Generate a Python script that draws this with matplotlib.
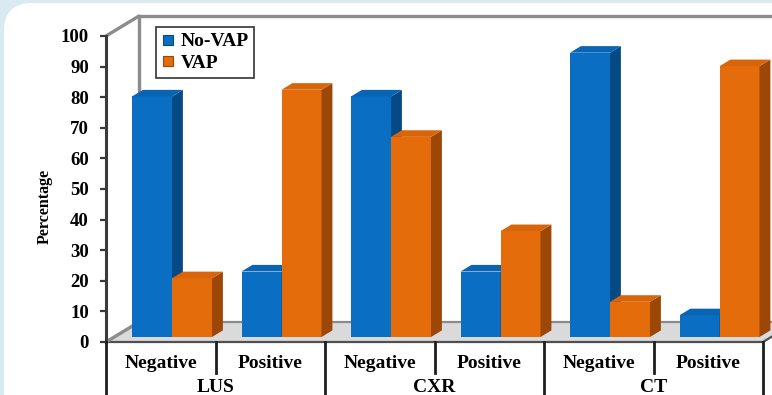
import matplotlib
matplotlib.use("Agg")
import matplotlib.pyplot as plt
from matplotlib.patches import Polygon, FancyBboxPatch
from matplotlib.lines import Line2D

# ---- data -------------------------------------------------------------
methods = ["LUS", "CXR", "CT"]
results = ["Negative", "Positive"]
series_names = ["No-VAP", "VAP"]
no_vap = [78.6, 21.4, 78.6, 21.4, 92.9, 7.1]
vap = [19.2, 80.8, 65.4, 34.6, 11.5, 88.5]
y_ticks = list(range(0, 101, 10))

# ---- styling ----------------------------------------------------------
W, H = 772, 395
SERIF = "Liberation Serif"
face = {"No-VAP": "#0a6fc2", "VAP": "#e46c0a"}
side = {"No-VAP": "#054a85", "VAP": "#9c4706"}
top = {"No-VAP": "#0965b4", "VAP": "#d8650a"}

fig = plt.figure(figsize=(W / 100, H / 100), dpi=100, facecolor="#d9eaf2")

# rounded white card behind the chart
bg = fig.add_axes([0, 0, 1, 1])
bg.set_xlim(0, W)
bg.set_ylim(H, 0)
bg.axis("off")
bg.add_patch(FancyBboxPatch((4, 3), 900, 500,
                            boxstyle="round,pad=0,rounding_size=28",
                            fc="white", ec="none"))

# plot area (front plane of the 3-D box)
L, R, T, B = 106, 763, 36, 342
ax = fig.add_axes([L / W, 1 - B / H, (R - L) / W, (B - T) / H])
ax.set_facecolor("none")
ncat = len(no_vap)
ax.set_xlim(0, ncat)
ax.set_ylim(0, 100)
for s in ax.spines.values():
    s.set_visible(False)

SX = ncat / (R - L)      # data units per pixel, x
SY = 100 / (B - T)       # data units per pixel, y
DX, DY = 33 * SX, 20 * SY  # full depth of the box

# floor
ax.add_patch(Polygon([(0, 0), (ncat, 0), (ncat + DX, DY), (DX, DY)],
                     closed=True, fc="#dadada", ec="none", zorder=1,
                     clip_on=False))
ax.plot([DX, ncat + DX], [DY, DY], color="#8a8a8a", lw=1.6, zorder=1.2,
        clip_on=False)
ax.plot([0, ncat, ncat + DX], [0, 0, DY], color="#505050", lw=1.6,
        zorder=1.2, clip_on=False)

# back and side wall edges
wall = dict(color="#8c8c8c", lw=2.4, zorder=1.3, clip_on=False,
            solid_capstyle="round")
ax.plot([DX, ncat + DX], [100 + DY, 100 + DY], **wall)
ax.plot([DX, DX], [DY, 100 + DY], **wall)
ax.plot([0, DX], [100, 100 + DY], **wall)
ax.plot([0, DX], [0, DY], **wall)

# 3-D bars
bw = 40 * SX
fx, fy = 0.25 * DX + 3 * SX, 0.25 * DY
ddx, ddy = 0.33 * DX, 0.33 * DY
z = 3.0
for i in range(ncat):
    c = i + 0.5 + fx
    for k, (name, vals) in enumerate(zip(series_names, [no_vap, vap])):
        v = vals[i]
        x0 = c - bw + k * bw
        x1 = x0 + bw
        ax.bar(x0, v, width=bw, bottom=fy, align="edge", color=face[name],
               lw=0, zorder=z, clip_on=False)
        ax.add_patch(Polygon([(x1, fy), (x1 + ddx, fy + ddy),
                              (x1 + ddx, fy + v + ddy), (x1, fy + v)],
                             closed=True, fc=side[name], ec="none",
                             zorder=z, clip_on=False))
        ax.add_patch(Polygon([(x0, fy + v), (x0 + ddx, fy + v + ddy),
                              (x1 + ddx, fy + v + ddy), (x1, fy + v)],
                             closed=True, fc=top[name], ec="none",
                             zorder=z, clip_on=False))
        z += 0.01

# y axis
ax.plot([0, 0], [0, 100], color="#3a3a3a", lw=2.2, zorder=5, clip_on=False)
ax.set_yticks(y_ticks)
ax.set_xticks([])
ax.tick_params(axis="y", length=4.3, width=1.6, pad=8.0, color="#3a3a3a")
for lab in ax.get_yticklabels():
    lab.set_fontfamily(SERIF)
    lab.set_fontweight("bold")
    lab.set_fontsize(13.5)

fig.text(45 / W, 1 - 206 / H, "Percentage", rotation=90, ha="center",
         va="center", fontfamily=SERIF, fontweight="bold", fontsize=11.5)

# category table below the floor
sep = dict(color="#1e1e1e", lw=2.0, zorder=5, clip_on=False)
for k in range(ncat + 1):
    bottom_px = 400 if k % 2 == 0 else 373
    ax.plot([k, k], [0, -(bottom_px - B) * SY], **sep)
for i in range(ncat):
    ax.text(i + 0.5, -(368 - B) * SY, results[i % 2], ha="center",
            va="baseline", fontfamily=SERIF, fontweight="bold",
            fontsize=14, clip_on=False)
for g, m in enumerate(methods):
    ax.text(2 * g + 1, -(392 - B) * SY, m, ha="center", va="baseline",
            fontfamily=SERIF, fontweight="bold", fontsize=14,
            clip_on=False)

# legend
handles = [Line2D([], [], ls="none", marker="s", markersize=6.5,
                  markerfacecolor=face[n], markeredgecolor=side[n],
                  markeredgewidth=0.8) for n in series_names]
leg = ax.legend(handles, series_names, loc="upper left",
                bbox_to_anchor=(156 / W, 1 - 27 / H),
                bbox_transform=fig.transFigure, borderaxespad=0,
                frameon=True, fancybox=False, edgecolor="black",
                handlelength=0.6, handletextpad=0.35, borderpad=0.3,
                labelspacing=0.2,
                prop=dict(family=SERIF, weight="bold", size=14))
leg.get_frame().set_linewidth(1.2)
leg.set_zorder(10)

fig.savefig("out.png", dpi=100, facecolor=fig.get_facecolor())
